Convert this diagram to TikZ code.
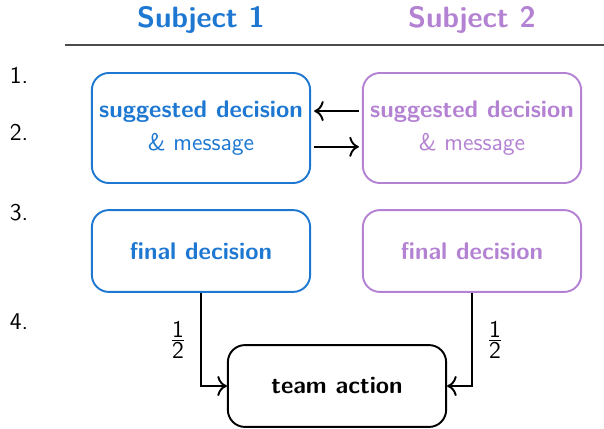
\documentclass[tikz,border=0pt]{standalone}
\usepackage{tikz}
\usetikzlibrary{positioning, arrows.meta}
\renewcommand{\familydefault}{\sfdefault}
\definecolor{subjone}{RGB}{30,120,210}
\definecolor{subjtwo}{RGB}{180,130,210}
\newcommand{\bodysize}{\fontsize{11.3}{13.6}\selectfont}
\newcommand{\headsize}{\fontsize{13.8}{16.5}\selectfont}
\tikzset{
	stagebox/.style={draw, rounded corners=8pt, line width=0.9pt,
		minimum width=3.6cm, align=center, font=\bodysize},
	tallbox/.style={stagebox, minimum height=1.815cm},
	flatbox/.style={stagebox, minimum height=1.35cm},
	steptext/.style={font=\bodysize, anchor=center},
	flow/.style={line width=0.9pt, -{To[length=4.5pt]}}
}
\newcommand{\half}{\bodysize$\frac{\textsf{1}}{\textsf{2}}$}
\begin{document}
\begin{tikzpicture}[x=0.0165cm, y=-0.0165cm]
      \useasboundingbox (0,0) rectangle (604,428);
      \node[font=\headsize\bfseries, text=subjone] (head1) at (201,20) {Subject 1};
      \node[font=\headsize\bfseries, text=subjtwo] (head2) at (472,20) {Subject 2};
      \draw[line width=0.6pt, black!70] (65,45) -- (604,45);
      \node[steptext] (num1) at (19,75) {1.};
      \node[steptext] (num2) at (19,132) {2.};
      \node[steptext] (num3) at (19,213) {3.};
      \node[steptext] (num4) at (19,322) {4.};
      % suggestions are swapped between the two subjects
      \node[tallbox, subjone] (sugg1) at (201,128)
        {\textbf{suggested decision}\\[2pt] \& message};
      \node[tallbox, subjtwo] (sugg2) at (472,128)
        {\textbf{suggested decision}\\[2pt] \& message};
      \draw[flow] ([yshift=0.28cm, xshift=-0.05cm]sugg2.west)
        -- ([yshift=0.28cm, xshift=0.05cm]sugg1.east);
      \draw[flow] ([yshift=-0.31cm, xshift=0.05cm]sugg1.east)
        -- ([yshift=-0.31cm, xshift=-0.05cm]sugg2.west);
      \node[flatbox, subjone, font=\bodysize\bfseries] (final1) at (201,251) {final decision};
      \node[flatbox, subjtwo, font=\bodysize\bfseries] (final2) at (472,251) {final decision};
      \node[flatbox, font=\bodysize\bfseries] (team) at (337,386) {team action};
      \draw[flow] (final1.south) |- node[pos=0.25, left=3pt] {\half} (team.west);
      \draw[flow] (final2.south) |- node[pos=0.25, right=3pt] {\half} (team.east);
    \end{tikzpicture}
\end{document}
